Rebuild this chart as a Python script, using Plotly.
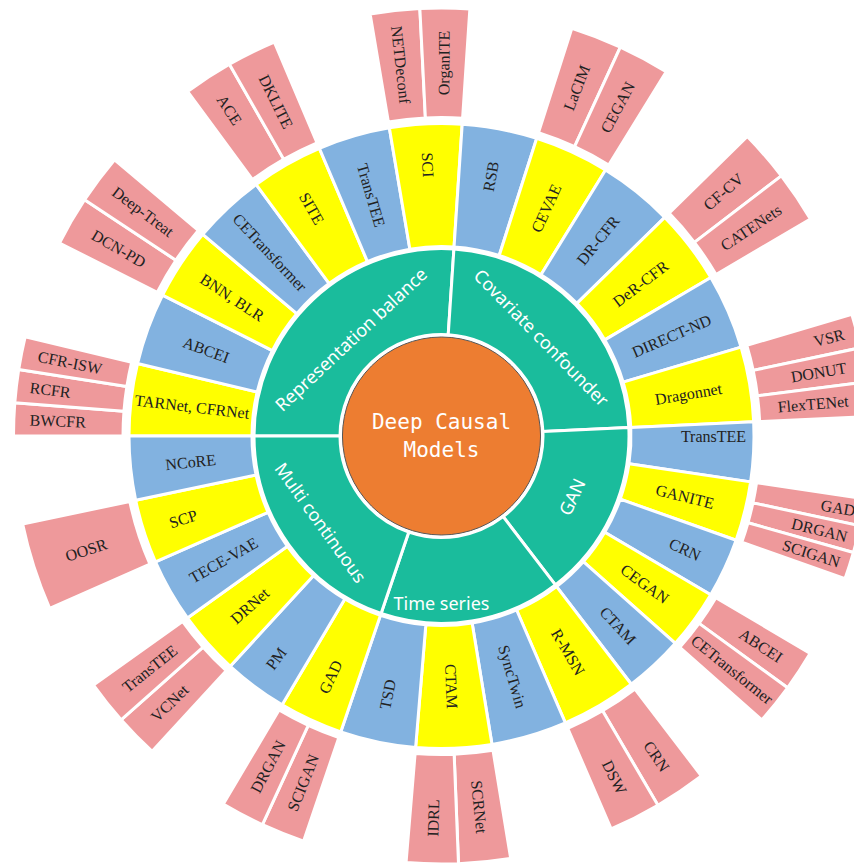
import plotly.graph_objects as go

# ---------------- data ----------------
root_label = "Deep Causal<br>Models"

groups = ["Representation balance", "Covariate confounder", "GAN", "Time series", "Multi continuous"]
group_share = [93.8, 83.6, 55.2, 56.2, 71.2]   # angular share of each family

rep_methods = ["TARNet, CFRNet", "ABCEI", "BNN, BLR", "CETransformer", "SITE", "TransTEE", "SCI"]
cov_methods = ["RSB", "CEVAE", "DR-CFR", "DeR-CFR", "DIRECT-ND", "Dragonnet"]
gan_methods = ["TransTEE", "GANITE", "CRN", "CEGAN", "CTAM"]
time_methods = ["R-MSN", "SyncTwin", "CTAM", "TSD"]
multi_methods = ["GAD", "PM", "DRNet", "TECE-VAE", "SCP", "NCoRE"]

rep_children = [["BWCFR", "RCFR", "CFR-ISW"], [], ["DCN-PD", "Deep-Treat"], [], ["ACE", "DKLITE"], [],
                ["NETDeconf", "OrganITE"]]
cov_children = [[], ["LaCIM", "CEGAN"], [], ["CF-CV", "CATENets"], [], ["VSR", "DONUT", "FlexTENet"]]
gan_children = [[], ["GAD", "DRGAN", "SCIGAN"], [], ["ABCEI", "CETransformer"], []]
time_children = [["CRN", "DSW"], [], ["SCRNet", "IDRL"], []]
multi_children = [["SCIGAN", "DRGAN"], [], ["VCNet", "TransTEE"], [], ["OOSR"], []]

# ---------------- styles ----------------
W, H = 870, 865                # figure size (page body adds an 8px margin)
CX, CY = 433.5, 428.0          # centre of the chart in figure pixels
GAP = 3                        # white separator width
R_CENTER = 99
R1 = (103, 186)
R2 = (191, 311)
R3 = (320, 426.5)

C_ORANGE = "#ED7D31"
C_GREEN = "#1ABC9C"
C_YELLOW = "#FFFF00"
C_BLUE = "#82B2E0"
C_PINK = "#EE999B"
TXT = "#222222"
SERIF = "Liberation Serif"


def domain(r):
    return dict(x=[max(0, (CX - r) / W), min(1, (CX + r) / W)],
                y=[max(0, (H - CY - r) / H), min(1, (H - CY + r) / H)])


def ring(inner, outer):
    o = outer + GAP / 2
    return domain(o), (inner - GAP / 2) / o


method_lists = [rep_methods, cov_methods, gan_methods, time_methods, multi_methods]
child_lists = [rep_children, cov_children, gan_children, time_children, multi_children]

# ring 2 and ring 3 values derived from the family shares
m_ids, m_text, m_vals, m_cols = [], [], [], []
l_ids, l_text, l_vals, l_cols, l_line = [], [], [], [], []
for g, share, meths, kids in zip(groups, group_share, method_lists, child_lists):
    v = share / len(meths)
    for m, ch in zip(meths, kids):
        mid = g + "/" + m
        m_ids.append(mid)
        m_text.append(m)
        m_vals.append(v)
        m_cols.append(C_YELLOW if ch else C_BLUE)
        if ch:
            for c in ch:
                l_ids.append(mid + "/" + c)
                l_text.append(c)
                l_vals.append(v / len(ch))
                l_cols.append(C_PINK)
                l_line.append("white")
        else:
            l_ids.append(mid + "/_")
            l_text.append("")
            l_vals.append(v)
            l_cols.append("rgba(0,0,0,0)")
            l_line.append("rgba(0,0,0,0)")

fig = go.Figure()

# centre
fig.add_trace(go.Pie(
    labels=["root"], values=[1], text=[root_label], textinfo="text",
    textposition="inside", insidetextorientation="horizontal",
    marker=dict(colors=[C_ORANGE], line=dict(color="#555555", width=1)),
    textfont=dict(family="DejaVu Sans Mono", size=21, color="white"),
    domain=domain(R_CENTER), sort=False, hoverinfo="skip", showlegend=False))

# ring 1: families
d1, h1 = ring(*R1)
fig.add_trace(go.Pie(
    labels=groups, values=group_share, text=groups, textinfo="text",
    textposition="inside", insidetextorientation="tangential",
    marker=dict(colors=[C_GREEN] * len(groups), line=dict(color="white", width=GAP)),
    textfont=dict(family="Noto Sans", size=18, color="white"),
    domain=d1, hole=h1, sort=False, direction="clockwise", rotation=270,
    hoverinfo="label", showlegend=False))

# ring 2: methods
d2, h2 = ring(*R2)
fig.add_trace(go.Pie(
    labels=m_ids, values=m_vals, text=m_text, textinfo="text",
    textposition="inside", insidetextorientation="radial",
    marker=dict(colors=m_cols, line=dict(color="white", width=GAP)),
    textfont=dict(family=SERIF, size=16, color=TXT),
    domain=d2, hole=h2, sort=False, direction="clockwise", rotation=270,
    hovertext=m_text, hoverinfo="text", showlegend=False))

# ring 3: derived methods
d3, h3 = ring(*R3)
fig.add_trace(go.Pie(
    labels=l_ids, values=l_vals, text=l_text, textinfo="text",
    textposition="inside", insidetextorientation="radial",
    marker=dict(colors=l_cols, line=dict(color=l_line, width=GAP)),
    textfont=dict(family=SERIF, size=16, color=TXT),
    domain=d3, hole=h3, sort=False, direction="clockwise", rotation=270,
    hovertext=l_text, hoverinfo="text", showlegend=False))

fig.update_layout(width=W, height=H, margin=dict(l=0, r=0, t=0, b=0),
                  paper_bgcolor="white", plot_bgcolor="white")

fig.write_html("out.html")
